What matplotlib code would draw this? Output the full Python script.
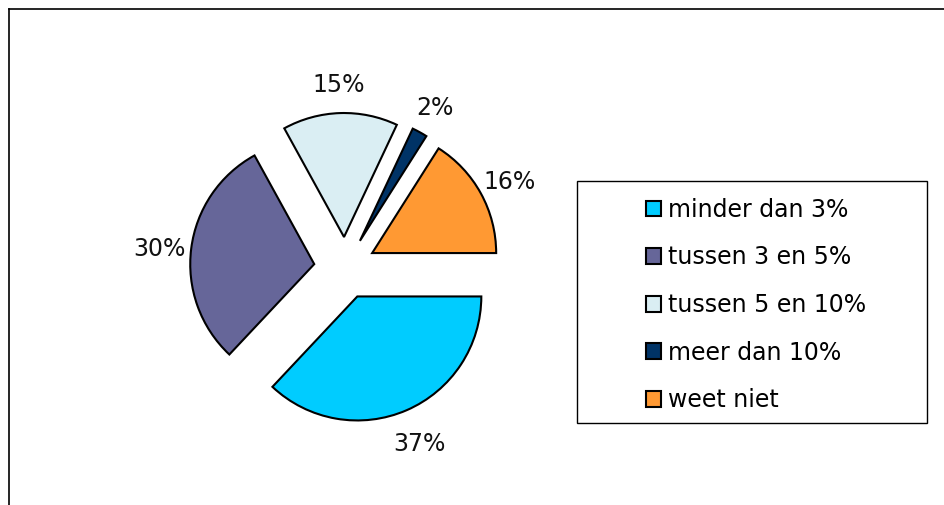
import matplotlib.pyplot as plt
import matplotlib.transforms as mtransforms
from matplotlib.patches import Rectangle
from matplotlib.lines import Line2D

categories = ['minder dan 3%', 'tussen 3 en 5%', 'tussen 5 en 10%', 'meer dan 10%', 'weet niet']
values = [37, 30, 15, 2, 16]
colors = ['#00CCFF', '#666699', '#DAEEF3', '#003366', '#FF9933']

W, H = 944, 505
fig = plt.figure(figsize=(W / 100, H / 100), dpi=100)

# pie axes: centre (345, 268) px, radius 124 px
R = 124
half = 200
cx, cy = 345, 268
ax = fig.add_axes([(cx - half) / W, (H - cy - half) / H, 2 * half / W, 2 * half / H])

wedges, texts = ax.pie(values, colors=colors, startangle=0, counterclock=False,
                       explode=[0.25] * len(values),
                       labels=[f'{v}%' for v in values], labeldistance=1.26,
                       wedgeprops=dict(edgecolor='black', linewidth=1.5),
                       textprops=dict(fontsize=17, color='#111111'))
# nudge labels slightly down
shift = mtransforms.ScaledTranslation(0, -4 / 100, fig.dpi_scale_trans)
for t in texts:
    t.set_ha('center')
    t.set_va('center')
    t.set_transform(t.get_transform() + shift)
ax.set_xlim(-half / R, half / R)
ax.set_ylim(-half / R, half / R)
ax.set_aspect('equal')
ax.axis('off')

# legend with box drawn separately
fig.patches.append(Rectangle((577 / W, (H - 423) / H), 350 / W, 242 / H,
                             transform=fig.transFigure, fill=False,
                             edgecolor='black', linewidth=1.0))
leg = fig.legend(wedges, categories, loc='upper left',
                 bbox_to_anchor=(634 / W, (H - 186) / H), frameon=False,
                 fontsize=17, handlelength=0.65, handleheight=0.65,
                 handletextpad=0.3, labelspacing=1.0, borderpad=0)

# chart frame (top and left edges)
fig.lines.append(Line2D([9 / W, 1], [(H - 9) / H] * 2, transform=fig.transFigure,
                        color='black', linewidth=1.2))
fig.lines.append(Line2D([9 / W] * 2, [0, (H - 9) / H], transform=fig.transFigure,
                        color='black', linewidth=1.2))

fig.savefig('out.png', dpi=100)
